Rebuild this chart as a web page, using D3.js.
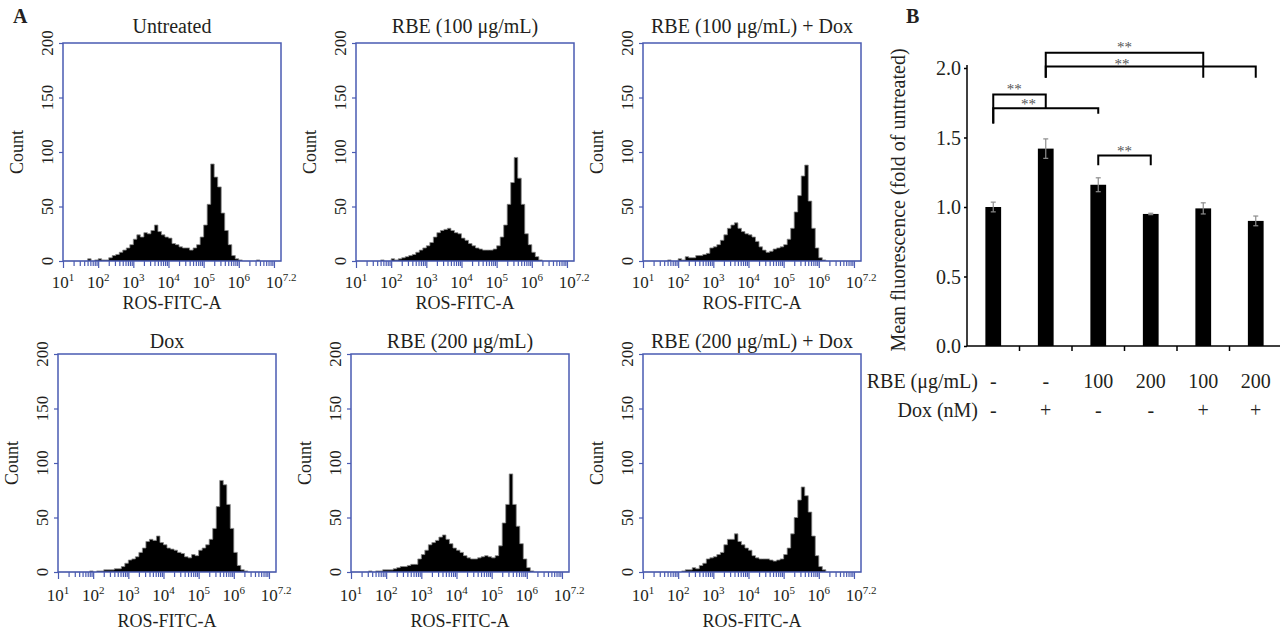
<!DOCTYPE html>
<html>
<head>
<meta charset="utf-8">
<script src="https://cdn.jsdelivr.net/npm/d3@7"></script>
<style>
body { margin: 0; background: #fff; }
svg text { font-family: "Liberation Serif", "Times New Roman", serif !important; fill: #231f20; }
</style>
</head>
<body>
<svg id="chart" width="1280" height="632" font-family="Liberation Serif, serif"></svg>
<script>
// ---- histogram data: counts per 0.1-decade bin, starting at 10^1 ----
var binStart = 1, binStep = 0.1;
var histUntreated = [0,0,0,0,0,0,0,2,0,1, 2,1,1,3,5,6,8,10,12,15, 20,24,22,26,25,28,33,27,24,22,
  21,16,15,13,12,12,10,12,15,22, 33,52,89,77,68,44,28,15,5,2, 1,0,0,0,0,1,0,0,0,0, 0,0];
var histRbe100 = [0,0,0,0,0,0,0,1,0,0, 2,1,2,3,4,5,6,8,10,12, 14,17,22,26,28,29,30,28,26,25,
  21,19,16,14,12,11,10,10,10,11, 14,22,33,52,72,95,76,52,25,15, 8,4,1,0,0,0,0,0,0,0, 0,0];
var histRbe100Dox = [0,0,0,0,0,0,0,1,0,0, 2,1,4,3,3,5,5,6,7,12, 13,15,19,24,30,33,35,30,27,25,
  24,22,18,13,10,8,9,11,12,13, 15,20,30,45,60,78,88,55,30,12, 3,1,0,0,0,0,0,0,0,0, 0,0];
var histDox = [0,0,0,0,0,0,0,0,0,1, 0,1,1,2,2,2,3,3,5,8, 11,12,14,18,22,28,30,29,33,27,
  25,22,21,20,18,17,14,13,16,15, 20,22,25,30,40,60,84,80,62,40, 18,6,2,1,0,0,0,0,0,0, 0,0];
var histRbe200 = [0,0,0,0,0,1,0,1,1,2, 2,2,3,4,5,5,6,7,7,12, 16,20,25,27,29,32,34,30,26,22,
  20,18,15,13,12,12,13,14,15,14, 13,15,24,45,62,90,62,42,26,12, 4,1,0,0,0,0,0,0,0,0, 0,0];
var histRbe200Dox = [0,0,0,0,0,0,0,0,0,0, 0,1,2,2,4,3,6,8,12,13, 14,16,18,25,30,30,35,28,25,22,
  20,15,13,12,12,12,11,10,11,12, 16,22,35,50,66,78,70,55,33,15, 5,2,0,0,0,0,0,0,0,0, 0,0];

var panelTitles = ["Untreated", "RBE (100 \u03bcg/mL)", "RBE (100 \u03bcg/mL) + Dox",
  "Dox", "RBE (200 \u03bcg/mL)", "RBE (200 \u03bcg/mL) + Dox"];
var panelHists = [histUntreated, histRbe100, histRbe100Dox, histDox, histRbe200, histRbe200Dox];
var countTicks = [0, 50, 100, 150, 200];
var decadeLabels = [1, 2, 3, 4, 5, 6, 7.2];

// ---- bar chart data ----
var meanFluor = [1.00, 1.42, 1.16, 0.95, 0.99, 0.90];
var meanErr = [0.035, 0.07, 0.05, 0.005, 0.04, 0.035];
var rbeLabels = ["-", "-", "100", "200", "100", "200"];
var doxLabels = ["-", "+", "-", "-", "+", "+"];
var fluorTicks = [0, 0.5, 1.0, 1.5, 2.0];
// significance brackets: [from, to], bracket level, leg ends, star position (in bar-index units)
var sigPairs = [[1, 4], [1, 5], [0, 1], [0, 2], [2, 3]];
var sigLevel = [2.11, 2.01, 1.81, 1.71, 1.37];
var sigLegs = [[1.93, 1.93], [1.93, 1.93], [1.60, 1.71], [1.60, 1.67], [1.30, 1.30]];
var sigStarAt = [2.5, 2.45, 0.4, 0.67, 2.5];
var sigStarDy = [-1, 2, 0, 1, 0];

var serif = "'Liberation Serif', 'Times New Roman', serif";
var svg = d3.select("#chart");
var blue = "#4a5bb2";

function txt(sel) {
  return sel.append("text").style("font-family", serif).attr("fill", "#231f20");
}

// panel frames
var frames = [
  {left: 63, top: 43, titleY: 33, tickY: 288, labY: 309},
  {left: 356, top: 43, titleY: 33, tickY: 288, labY: 309},
  {left: 643, top: 43, titleY: 33, tickY: 288, labY: 309},
  {left: 58, top: 354, titleY: 348, tickY: 601, labY: 627},
  {left: 351, top: 354, titleY: 348, tickY: 601, labY: 627},
  {left: 643, top: 354, titleY: 348, tickY: 601, labY: 627}
];
var boxW = 218, boxH = 218;

function drawHist(counts, title, f) {
  var g = svg.append("g"),
    x = d3.scaleLog().domain([10, Math.pow(10, 7.2)]).range([f.left, f.left + boxW]),
    y = d3.scaleLinear().domain([0, 200]).range([f.top + boxH, f.top]),
    pts = counts.map(function(c, i) { return {e: binStart + i * binStep, c: c}; }),
    minorVals = [], majorVals = [];

  pts.push({e: binStart + counts.length * binStep, c: 0});

  var area = d3.area()
    .curve(d3.curveStepAfter)
    .x(function(d) { return x(Math.pow(10, d.e)); })
    .y0(y(0))
    .y1(function(d) { return y(d.c); });
  var line = d3.line()
    .curve(d3.curveStepAfter)
    .x(function(d) { return x(Math.pow(10, d.e)); })
    .y(function(d) { return y(d.c); });

  g.append("path").attr("d", area(pts)).attr("fill", "#000");
  g.append("path").attr("d", line(pts)).attr("fill", "none")
    .attr("stroke", "#8a8a8a").attr("stroke-width", 0.8);

  g.append("rect")
    .attr("x", f.left).attr("y", f.top)
    .attr("width", boxW).attr("height", boxH)
    .attr("fill", "none").attr("stroke", blue).attr("stroke-width", 1.5);

  for (var d = 1; d <= 6; d++) {
    majorVals.push(Math.pow(10, d));
    for (var m = 2; m <= 9; m++) minorVals.push(m * Math.pow(10, d));
  }
  majorVals.push(1e7);

  var ax1 = g.append("g").attr("transform", "translate(0," + (f.top + boxH) + ")")
    .call(d3.axisBottom(x).tickValues(minorVals).tickSize(5).tickFormat(""));
  var ax2 = g.append("g").attr("transform", "translate(0," + (f.top + boxH) + ")")
    .call(d3.axisBottom(x).tickValues(majorVals).tickSize(7).tickFormat(""));
  var ay = g.append("g").attr("transform", "translate(" + f.left + ",0)")
    .call(d3.axisLeft(y).tickValues(countTicks).tickSize(4).tickFormat(""));
  [ax1, ax2, ay].forEach(function(a) {
    a.select(".domain").remove();
    a.selectAll("line").attr("stroke", blue).attr("stroke-width", 1.2);
  });

  decadeLabels.forEach(function(e) {
    var t = txt(g)
      .attr("x", x(Math.pow(10, e)))
      .attr("y", f.tickY)
      .attr("text-anchor", "middle")
      .attr("font-size", 17);
    t.append("tspan").text("10");
    t.append("tspan").attr("dy", -7).attr("font-size", 11).text(String(e));
  });

  countTicks.forEach(function(v) {
    txt(g)
      .attr("transform", "translate(" + (f.left - 10) + "," + y(v) + ") rotate(-90)")
      .attr("text-anchor", "middle")
      .attr("font-size", 17)
      .text(v);
  });

  txt(g)
    .attr("transform", "translate(" + (f.left - 40) + "," + (f.top + boxH / 2) + ") rotate(-90)")
    .attr("text-anchor", "middle")
    .attr("font-size", 18)
    .text("Count");

  txt(g)
    .attr("x", f.left + boxW / 2).attr("y", f.titleY)
    .attr("text-anchor", "middle").attr("font-size", 20)
    .text(title);

  txt(g)
    .attr("x", f.left + boxW / 2).attr("y", f.labY)
    .attr("text-anchor", "middle").attr("font-size", 18)
    .text("ROS-FITC-A");
}

panelHists.forEach(function(h, i) { drawHist(h, panelTitles[i], frames[i]); });

txt(svg).attr("x", 13).attr("y", 23)
  .attr("font-size", 20).attr("font-weight", "bold").text("A");
txt(svg).attr("x", 906).attr("y", 23)
  .attr("font-size", 20).attr("font-weight", "bold").text("B");

// ---- panel B ----
var gb = svg.append("g"),
  bx = d3.scaleBand().domain(d3.range(meanFluor.length)).range([967, 1282])
    .paddingInner(0.7).paddingOuter(0.35),
  by = d3.scaleLinear().domain([0, 2]).range([346, 68]),
  step = bx.step(),
  cx = function(i) { return bx(i) + bx.bandwidth() / 2; };

gb.selectAll(".bar")
  .data(meanFluor)
  .enter()
  .append("rect")
    .attr("class", "bar")
    .attr("x", function(d, i) { return bx(i); })
    .attr("y", function(d) { return by(d); })
    .attr("width", bx.bandwidth())
    .attr("height", function(d) { return by(0) - by(d); })
    .attr("fill", "#000");

var err = gb.selectAll(".err")
  .data(meanFluor)
  .enter()
  .append("g")
    .attr("class", "err")
    .attr("stroke", "#8c8c8c")
    .attr("stroke-width", 1.2);
err.append("line")
  .attr("x1", function(d, i) { return cx(i); })
  .attr("x2", function(d, i) { return cx(i); })
  .attr("y1", function(d, i) { return by(d - meanErr[i]); })
  .attr("y2", function(d, i) { return by(d + meanErr[i]); });
err.append("line")
  .attr("x1", function(d, i) { return cx(i) - 2.5; })
  .attr("x2", function(d, i) { return cx(i) + 2.5; })
  .attr("y1", function(d, i) { return by(d + meanErr[i]); })
  .attr("y2", function(d, i) { return by(d + meanErr[i]); });
err.append("line")
  .attr("x1", function(d, i) { return cx(i) - 2.5; })
  .attr("x2", function(d, i) { return cx(i) + 2.5; })
  .attr("y1", function(d, i) { return by(d - meanErr[i]); })
  .attr("y2", function(d, i) { return by(d - meanErr[i]); });

var yAxB = gb.append("g").attr("transform", "translate(967,0)")
  .call(d3.axisLeft(by).tickValues(fluorTicks).tickSize(3).tickSizeOuter(0)
    .tickFormat(d3.format(".1f")));
yAxB.attr("font-family", null);
yAxB.select(".domain").attr("stroke", "#000").attr("stroke-width", 1.5)
  .attr("d", "M0," + (by(0)) + "V" + (by(2) - 3));
yAxB.selectAll("line").attr("stroke", "#000").attr("stroke-width", 1.5);
yAxB.selectAll("text").attr("font-size", 20).attr("x", -6).attr("dy", "0.34em")
  .style("font-family", serif).attr("fill", "#231f20");

gb.append("line")
  .attr("x1", 967).attr("x2", 1280).attr("y1", by(0)).attr("y2", by(0))
  .attr("stroke", "#000").attr("stroke-width", 1.5);
gb.selectAll(".xtick")
  .data(d3.range(1, meanFluor.length))
  .enter()
  .append("line")
    .attr("class", "xtick")
    .attr("x1", function(i) { return cx(i) - step / 2; })
    .attr("x2", function(i) { return cx(i) - step / 2; })
    .attr("y1", by(0)).attr("y2", by(0) + 5)
    .attr("stroke", "#000").attr("stroke-width", 1.5);

txt(gb)
  .attr("transform", "translate(905,200) rotate(-90)")
  .attr("text-anchor", "middle").attr("font-size", 20)
  .text("Mean fluorescence (fold of untreated)");

txt(gb).attr("x", 978).attr("y", 388).attr("text-anchor", "end")
  .attr("font-size", 20).text("RBE (\u03bcg/mL)");
txt(gb).attr("x", 978).attr("y", 417).attr("text-anchor", "end")
  .attr("font-size", 20).text("Dox (nM)");
rbeLabels.forEach(function(t, i) {
  txt(gb).attr("x", cx(i)).attr("y", 388).attr("text-anchor", "middle")
    .attr("font-size", 20).text(t);
});
doxLabels.forEach(function(t, i) {
  txt(gb).attr("x", cx(i)).attr("y", 417).attr("text-anchor", "middle")
    .attr("font-size", 20).text(t);
});

sigPairs.forEach(function(p, k) {
  var x1 = cx(p[0]), x2 = cx(p[1]), yl = by(sigLevel[k]);
  gb.append("path")
    .attr("d", "M" + x1 + "," + by(sigLegs[k][0]) + "V" + yl + "H" + x2 + "V" + by(sigLegs[k][1]))
    .attr("fill", "none").attr("stroke", "#000").attr("stroke-width", 2);
  txt(gb)
    .attr("x", cx(0) + sigStarAt[k] * step)
    .attr("y", yl + sigStarDy[k])
    .attr("text-anchor", "middle").attr("font-size", 15)
    .style("fill", "#555")
    .text("**");
});
</script>
</body>
</html>
